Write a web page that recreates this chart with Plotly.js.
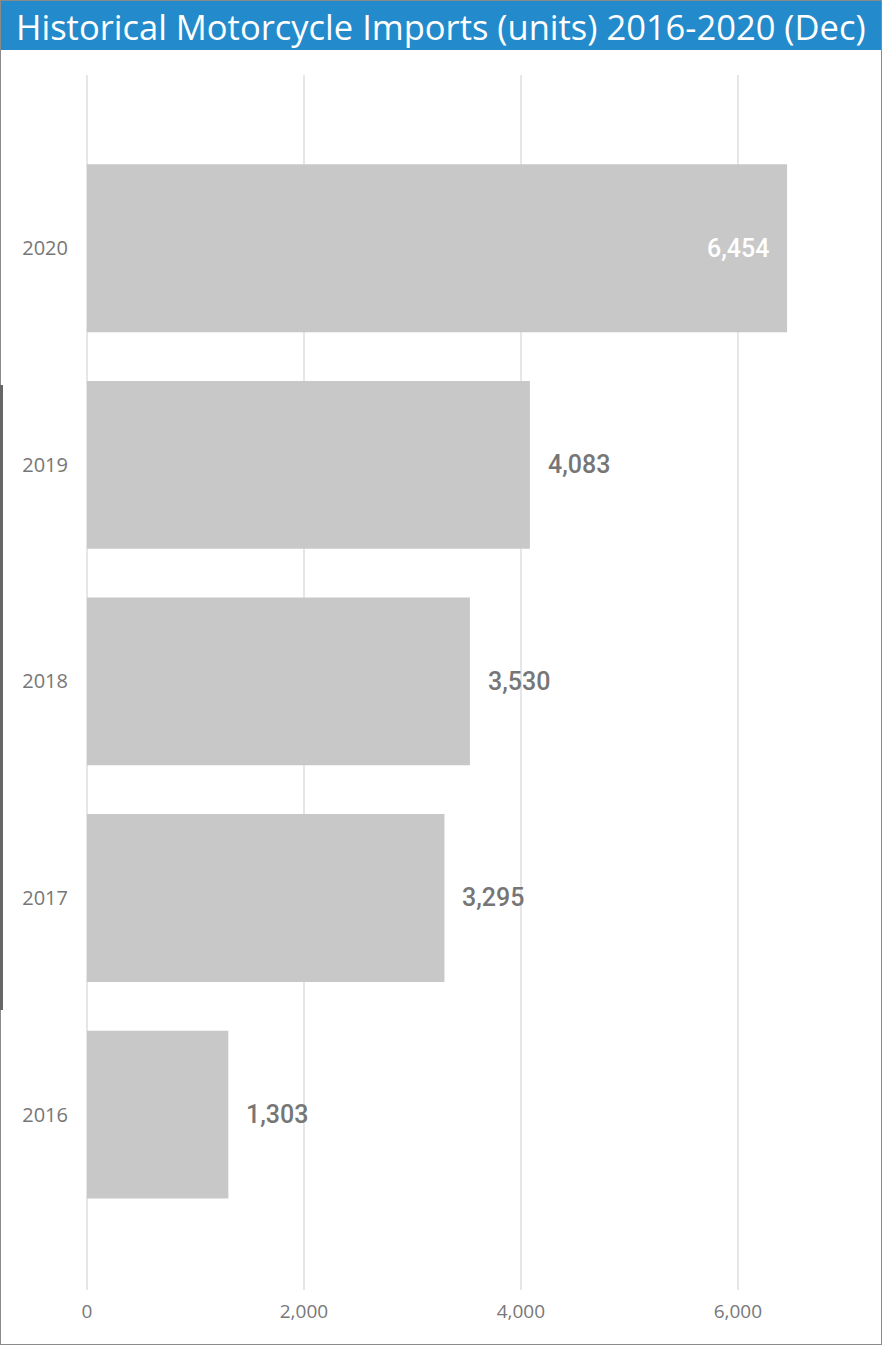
<!DOCTYPE html>
<html><head><meta charset="utf-8">
<script src="https://cdn.plot.ly/plotly-3.0.1.min.js"></script>
<style>
html,body{margin:0;padding:0;background:#fff;}
#wrap{position:relative;width:882px;height:1345px;}
#chart{position:absolute;left:0;top:0;width:882px;height:1345px;}
#frame{position:absolute;left:0;top:0;width:880px;height:1343px;border:1px solid #8a8a8a;pointer-events:none;}
#lbar{position:absolute;left:0;top:385px;width:3px;height:625px;background:#666;pointer-events:none;}
</style></head>
<body><div id="wrap"><div id="chart"></div><div id="frame"></div><div id="lbar"></div></div>
<script>
const years = ['2016','2017','2018','2019','2020'];
const imports = [1303, 3295, 3530, 4083, 6454];
const xTicks = [0, 2000, 4000, 6000];
const xTickLabels = ['0', '2,000', '4,000', '6,000'];
const titleText = 'Historical Motorcycle Imports (units) 2016-2020 (Dec)';

const W = 882, H = 1345, L = 87, R = 14, T = 75, B = 55;
const pw = W - L - R, ph = H - T - B;
const px2x = p => (p - L) / pw;
const py2y = p => 1 - (p - T) / ph;

const fmt = v => String(v).replace(/\B(?=(\d{3})+(?!\d))/g, ',');
const maxV = Math.max(...imports);
const annotations = imports.map((v, i) => {
  const inside = v === maxV;
  return {
    x: v, y: i, xref: 'x', yref: 'y',
    text: fmt(v),
    showarrow: false,
    xanchor: inside ? 'right' : 'left',
    xshift: inside ? -16 : 16,
    font: {family: 'Roboto, sans-serif', size: 25, weight: 500, color: inside ? '#ffffff' : '#767676'}
  };
});

const trace = {
  type: 'bar', orientation: 'h',
  x: imports, y: years,
  marker: {color: '#c8c8c8'},
  width: 0.775,
  hoverinfo: 'none'
};

const layout = {
  width: W, height: H,
  margin: {l: L, r: R, t: T, b: B},
  paper_bgcolor: '#ffffff', plot_bgcolor: '#ffffff',
  showlegend: false,
  title: {
    text: titleText, x: 16 / W, xanchor: 'left', xref: 'container',
    y: 1 - 28 / H, yanchor: 'middle', yref: 'container',
    font: {family: '"Open Sans", sans-serif', size: 34.5, color: '#ffffff'}
  },
  xaxis: {
    range: [0, 7200], tickvals: xTicks, ticktext: xTickLabels,
    showgrid: true, gridcolor: '#e6e6e6', gridwidth: 2,
    zeroline: true, zerolinecolor: '#e6e6e6', zerolinewidth: 2,
    showline: false, ticks: '', ticklabelstandoff: 8,
    tickfont: {family: '"Open Sans", sans-serif', size: 19, color: '#777777'},
    fixedrange: true
  },
  yaxis: {
    type: 'category', range: [-0.81, 4.8],
    showgrid: false, zeroline: false, showline: false, ticks: '',
    ticklabelstandoff: 18,
    tickfont: {family: '"Open Sans", sans-serif', size: 20, color: '#777777'},
    fixedrange: true
  },
  shapes: [
    {type: 'rect', xref: 'paper', yref: 'paper', layer: 'below',
     x0: px2x(0), x1: px2x(W), y0: py2y(50), y1: py2y(0),
     fillcolor: '#238bcb', line: {width: 0}}
  ],
  annotations: annotations
};

Plotly.newPlot('chart', [trace], layout, {displayModeBar: false, staticPlot: true});
</script></body></html>
